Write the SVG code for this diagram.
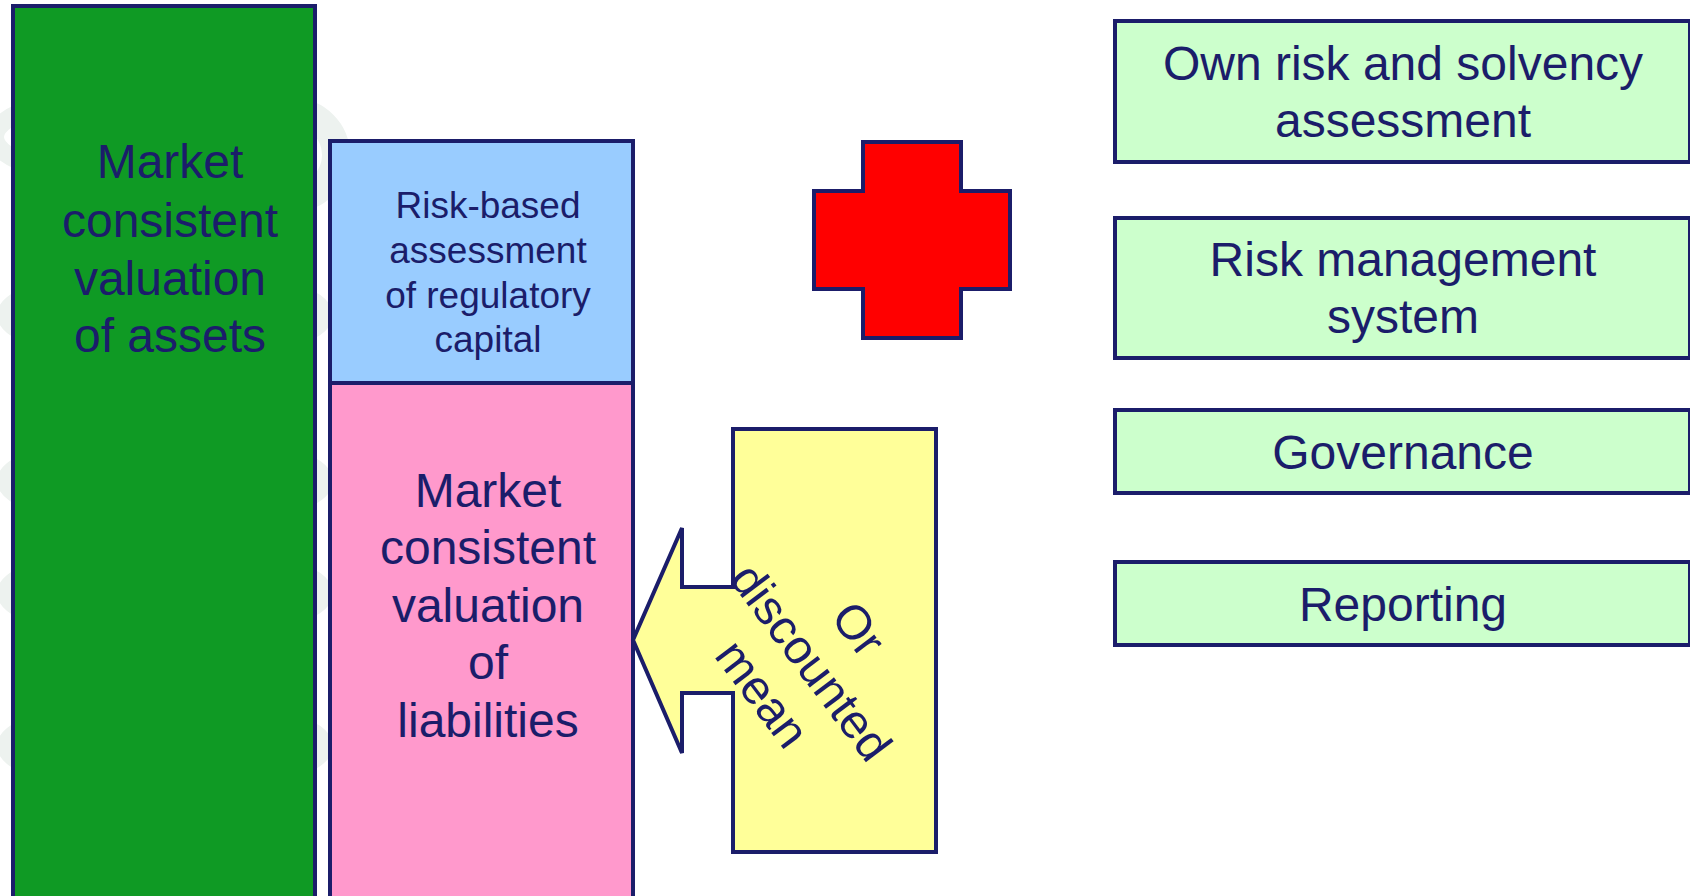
<svg xmlns="http://www.w3.org/2000/svg" width="1690" height="896" viewBox="0 0 1690 896">
  <style>
    .box { stroke: #1b1d6a; stroke-width: 4; }
    .lbl { font-family: "Liberation Sans", Arial, sans-serif; fill: #1b1d6a; text-anchor: middle; }
    .big { font-size: 48px; }
    .mid { font-size: 37px; }
    .mark { fill: none; stroke: #edf2ef; }
  </style>

  <rect width="1690" height="896" fill="#ffffff"/>

  <!-- faint background watermark -->
  <g id="watermark">
    <circle class="mark" cx="293" cy="155" r="43" stroke-width="28"/>
    <ellipse class="mark" cx="165" cy="315" rx="160" ry="40" stroke-width="16"/>
    <ellipse class="mark" cx="165" cy="481" rx="160" ry="40" stroke-width="16"/>
    <ellipse class="mark" cx="165" cy="593" rx="160" ry="40" stroke-width="16"/>
    <ellipse class="mark" cx="165" cy="746" rx="160" ry="40" stroke-width="16"/>
    <ellipse class="mark" cx="150" cy="137" rx="155" ry="45" stroke-width="18"/>
  </g>

  <!-- balance sheet: assets -->
  <g id="assets">
    <rect class="box" x="13" y="6" width="302" height="900" fill="#0f9a24"/>
    <text class="lbl big" x="170" y="178">Market</text>
    <text class="lbl big" x="170" y="237">consistent</text>
    <text class="lbl big" x="170" y="295">valuation</text>
    <text class="lbl big" x="170" y="352">of assets</text>
  </g>

  <!-- balance sheet: capital requirement -->
  <g id="capital">
    <rect class="box" x="330" y="141" width="303" height="242" fill="#99ccff"/>
    <text class="lbl mid" x="488" y="218">Risk-based</text>
    <text class="lbl mid" x="488" y="263">assessment</text>
    <text class="lbl mid" x="488" y="308">of regulatory</text>
    <text class="lbl mid" x="488" y="352">capital</text>
  </g>

  <!-- balance sheet: liabilities -->
  <g id="liabilities">
    <rect class="box" x="330" y="383" width="303" height="530" fill="#ff99cc"/>
    <text class="lbl big" x="488" y="507">Market</text>
    <text class="lbl big" x="488" y="564">consistent</text>
    <text class="lbl big" x="488" y="622">valuation</text>
    <text class="lbl big" x="488" y="679">of</text>
    <text class="lbl big" x="488" y="737">liabilities</text>
  </g>

  <!-- left-pointing callout arrow -->
  <g id="discounted-mean">
    <path class="box" fill="#ffff99" stroke-linejoin="miter"
          d="M733,429 L936,429 L936,852 L733,852 L733,693 L682,693 L682,753 L633,640 L682,528 L682,587 L733,587 Z"/>
    <g transform="translate(798,672) rotate(53)">
      <text class="lbl big" x="2" y="-58">Or</text>
      <text class="lbl big" x="0" y="0">discounted</text>
      <text class="lbl big" x="-4" y="58">mean</text>
    </g>
  </g>

  <!-- plus sign -->
  <g id="plus">
    <path class="box" fill="#ff0000"
          d="M863,142 L961,142 L961,191 L1010,191 L1010,289 L961,289 L961,338 L863,338 L863,289 L814,289 L814,191 L863,191 Z"/>
  </g>

  <!-- qualitative requirements -->
  <g id="orsa">
    <rect class="box" x="1115" y="21" width="575" height="141" fill="#ccffcc"/>
    <text class="lbl big" x="1403" y="80">Own risk and solvency</text>
    <text class="lbl big" x="1403" y="137">assessment</text>
  </g>
  <g id="risk-management">
    <rect class="box" x="1115" y="218" width="575" height="140" fill="#ccffcc"/>
    <text class="lbl big" x="1403" y="276">Risk management</text>
    <text class="lbl big" x="1403" y="333">system</text>
  </g>
  <g id="governance">
    <rect class="box" x="1115" y="410" width="575" height="83" fill="#ccffcc"/>
    <text class="lbl big" x="1403" y="469">Governance</text>
  </g>
  <g id="reporting">
    <rect class="box" x="1115" y="562" width="575" height="83" fill="#ccffcc"/>
    <text class="lbl big" x="1403" y="621">Reporting</text>
  </g>

  <g id="connectors"></g>
</svg>
